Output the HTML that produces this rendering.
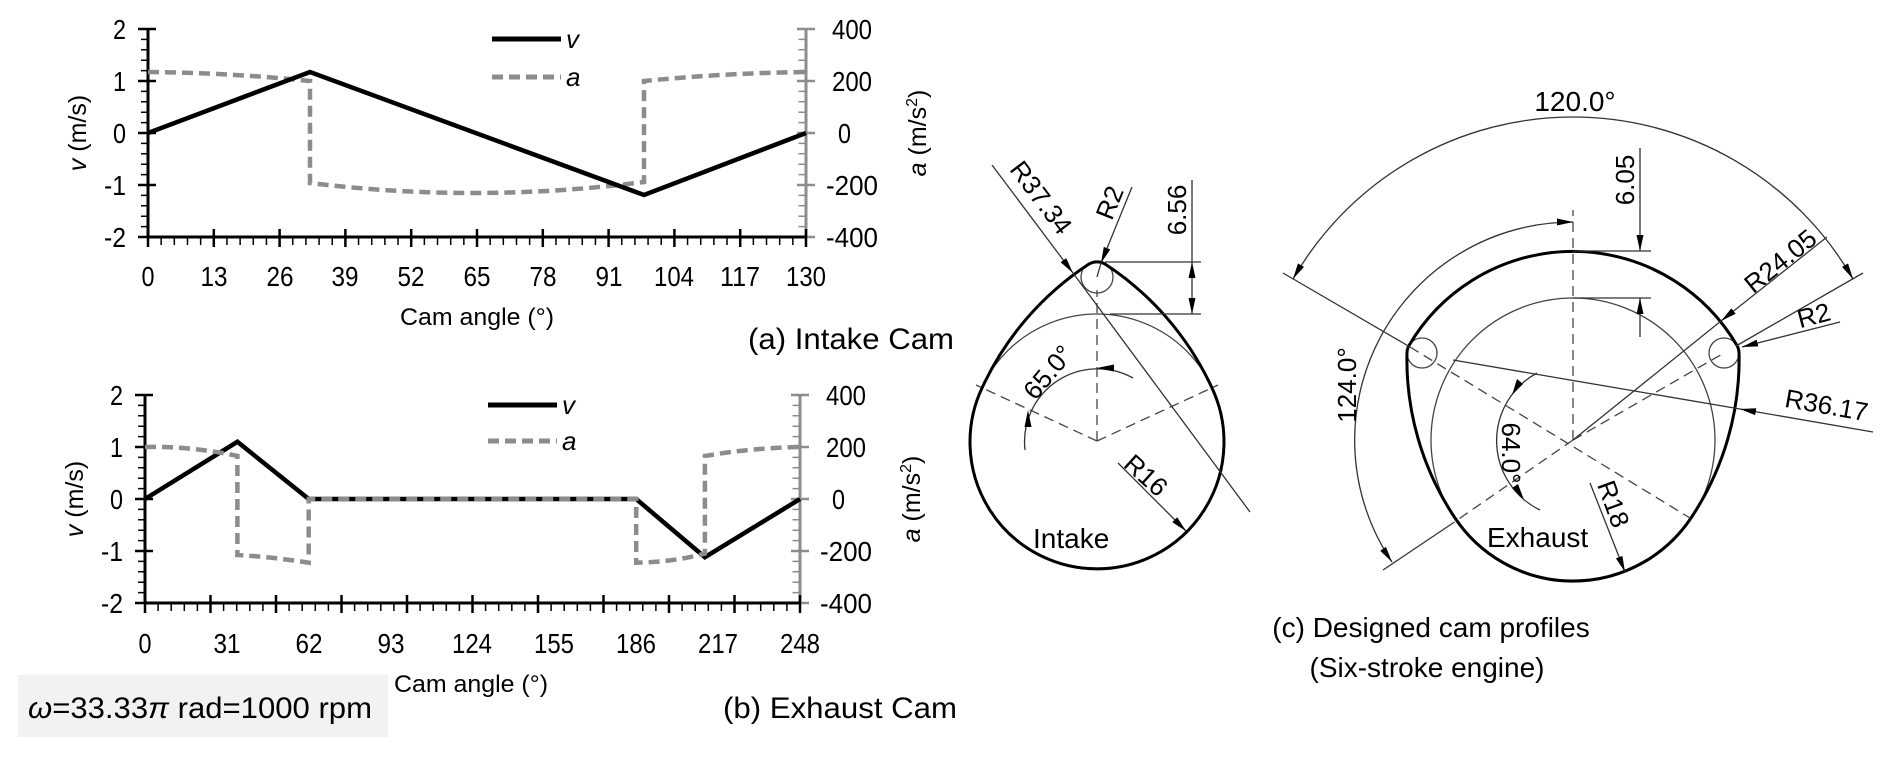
<!DOCTYPE html>
<html><head><meta charset="utf-8"><style>
html,body{margin:0;padding:0;background:#fff;}
svg{display:block;}
.n{font-family:"Liberation Sans Narrow","Liberation Sans",sans-serif;}
.s{font-family:"Liberation Sans",sans-serif;}
</style></head><body>
<svg width="1892" height="757" viewBox="0 0 1892 757" xmlns="http://www.w3.org/2000/svg">
<defs>
<marker id="ar" markerUnits="userSpaceOnUse" markerWidth="16" markerHeight="7" viewBox="0 0 16 7" refX="16" refY="3.5" orient="auto-start-reverse"><path d="M0,0 L16,3.5 L0,7 z" fill="#000"/></marker>
</defs>
<rect x="0" y="0" width="1892" height="757" fill="#fff"/>

<!-- ===== Chart (a) ===== -->
<g>
<line x1="806" y1="29" x2="806" y2="237" stroke="#8c8c8c" stroke-width="3"/>
<line x1="802" y1="29" x2="802" y2="237" stroke="#8c8c8c" stroke-width="7" stroke-dasharray="1.5 8.9" stroke-dashoffset="0.75"/>
<line x1="806" y1="27.75" x2="806" y2="240" stroke="#8c8c8c" stroke-width="18" stroke-dasharray="2.5 49.5"/>
<line x1="148" y1="29" x2="148" y2="237" stroke="#000" stroke-width="3"/>
<line x1="144.5" y1="28.25" x2="144.5" y2="238" stroke="#000" stroke-width="7" stroke-dasharray="1.5 8.9"/>
<line x1="147" y1="27.75" x2="147" y2="240" stroke="#000" stroke-width="18" stroke-dasharray="2.5 49.5"/>
<line x1="148" y1="237" x2="806" y2="237" stroke="#000" stroke-width="3"/>
<line x1="147.25" y1="241" x2="808" y2="241" stroke="#000" stroke-width="8" stroke-dasharray="1.5 11.66"/>
<line x1="146.75" y1="238" x2="810" y2="238" stroke="#000" stroke-width="18" stroke-dasharray="2.5 63.3"/>
<path d="M148,72 Q229,72.7 310,81 L310,183 Q477,203.5 644,182 L644,81 Q725,73 806,72" fill="none" stroke="#8c8c8c" stroke-width="4.5" stroke-dasharray="11 6"/>
<polyline points="148,133 310,72 644,195 806,133" fill="none" stroke="#000" stroke-width="4.5"/>
<line x1="492" y1="39" x2="561" y2="39" stroke="#000" stroke-width="5"/>
<text x="566" y="48" class="n" font-size="26" font-style="italic">v</text>
<line x1="492" y1="77" x2="561" y2="77" stroke="#8c8c8c" stroke-width="5" stroke-dasharray="11 6"/>
<text x="566" y="86" class="n" font-size="26" font-style="italic">a</text>
<g class="n" font-size="28" text-anchor="end" lengthAdjust="spacingAndGlyphs">
<text x="126" y="39" textLength="13" lengthAdjust="spacingAndGlyphs">2</text><text x="126" y="91" textLength="13" lengthAdjust="spacingAndGlyphs">1</text><text x="126" y="143" textLength="13" lengthAdjust="spacingAndGlyphs">0</text><text x="126" y="195" textLength="22" lengthAdjust="spacingAndGlyphs">-1</text><text x="126" y="247" textLength="22" lengthAdjust="spacingAndGlyphs">-2</text>
</g>
<g class="n" font-size="28">
<text x="832" y="39" textLength="40" lengthAdjust="spacingAndGlyphs">400</text><text x="832" y="91" textLength="40" lengthAdjust="spacingAndGlyphs">200</text><text x="838" y="143" textLength="13" lengthAdjust="spacingAndGlyphs">0</text><text x="826" y="195" textLength="52" lengthAdjust="spacingAndGlyphs">-200</text><text x="826" y="247" textLength="52" lengthAdjust="spacingAndGlyphs">-400</text>
</g>
<g class="n" font-size="28" text-anchor="middle">
<text x="148" y="286" textLength="13" lengthAdjust="spacingAndGlyphs">0</text><text x="214" y="286" textLength="27" lengthAdjust="spacingAndGlyphs">13</text><text x="280" y="286" textLength="27" lengthAdjust="spacingAndGlyphs">26</text><text x="345" y="286" textLength="27" lengthAdjust="spacingAndGlyphs">39</text><text x="411" y="286" textLength="27" lengthAdjust="spacingAndGlyphs">52</text><text x="477" y="286" textLength="27" lengthAdjust="spacingAndGlyphs">65</text><text x="543" y="286" textLength="27" lengthAdjust="spacingAndGlyphs">78</text><text x="609" y="286" textLength="27" lengthAdjust="spacingAndGlyphs">91</text><text x="674" y="286" textLength="40" lengthAdjust="spacingAndGlyphs">104</text><text x="740" y="286" textLength="40" lengthAdjust="spacingAndGlyphs">117</text><text x="806" y="286" textLength="40" lengthAdjust="spacingAndGlyphs">130</text>
</g>
<text x="400" y="325" class="n" font-size="24" textLength="154" lengthAdjust="spacingAndGlyphs">Cam angle (°)</text>
<text transform="translate(86,133) rotate(-90)" class="s" font-size="25" text-anchor="middle"><tspan font-style="italic">v</tspan> (m/s)</text>
<text transform="translate(926,133) rotate(-90)" class="s" font-size="25" text-anchor="middle"><tspan font-style="italic">a</tspan> (m/s<tspan font-size="16" dy="-9">2</tspan><tspan dy="9">)</tspan></text>
<text x="748" y="349" class="n" font-size="30" textLength="206" lengthAdjust="spacingAndGlyphs">(a) Intake Cam</text>
</g>

<!-- ===== Chart (b) ===== -->
<g>
<line x1="800" y1="395" x2="800" y2="603" stroke="#8c8c8c" stroke-width="3"/>
<line x1="796" y1="394.25" x2="796" y2="604" stroke="#8c8c8c" stroke-width="7" stroke-dasharray="1.5 8.9"/>
<line x1="800" y1="393.75" x2="800" y2="606" stroke="#8c8c8c" stroke-width="18" stroke-dasharray="2.5 49.5"/>
<line x1="145" y1="395" x2="145" y2="603" stroke="#000" stroke-width="3"/>
<line x1="141.5" y1="394.25" x2="141.5" y2="604" stroke="#000" stroke-width="7" stroke-dasharray="1.5 8.9"/>
<line x1="144" y1="393.75" x2="144" y2="606" stroke="#000" stroke-width="18" stroke-dasharray="2.5 49.5"/>
<line x1="145" y1="603" x2="800" y2="603" stroke="#000" stroke-width="3"/>
<line x1="144.25" y1="607" x2="802" y2="607" stroke="#000" stroke-width="8" stroke-dasharray="1.5 11.6"/>
<line x1="143.75" y1="604" x2="804" y2="604" stroke="#000" stroke-width="18" stroke-dasharray="2.5 63"/>
<polyline points="145,499 237.4,441.8 308.7,499 636.2,499 704.9,557.2 800,499" fill="none" stroke="#000" stroke-width="4.5"/>
<path d="M145,447 Q191,446 237.4,456 L237.4,555 Q273,557 308.7,562.7 L308.7,499 L636.2,499 L636.2,562.7 Q674,562 704.9,553.6 L704.9,456 Q750,448 800,447" fill="none" stroke="#8c8c8c" stroke-width="4.5" stroke-dasharray="11 6"/>
<line x1="488" y1="405" x2="557" y2="405" stroke="#000" stroke-width="5"/>
<text x="562" y="414" class="n" font-size="26" font-style="italic">v</text>
<line x1="488" y1="441" x2="557" y2="441" stroke="#8c8c8c" stroke-width="5" stroke-dasharray="11 6"/>
<text x="562" y="450" class="n" font-size="26" font-style="italic">a</text>
<g class="n" font-size="28" text-anchor="end">
<text x="123" y="405" textLength="13" lengthAdjust="spacingAndGlyphs">2</text><text x="123" y="457" textLength="13" lengthAdjust="spacingAndGlyphs">1</text><text x="123" y="509" textLength="13" lengthAdjust="spacingAndGlyphs">0</text><text x="123" y="561" textLength="22" lengthAdjust="spacingAndGlyphs">-1</text><text x="123" y="613" textLength="22" lengthAdjust="spacingAndGlyphs">-2</text>
</g>
<g class="n" font-size="28">
<text x="826" y="405" textLength="40" lengthAdjust="spacingAndGlyphs">400</text><text x="826" y="457" textLength="40" lengthAdjust="spacingAndGlyphs">200</text><text x="832" y="509" textLength="13" lengthAdjust="spacingAndGlyphs">0</text><text x="820" y="561" textLength="52" lengthAdjust="spacingAndGlyphs">-200</text><text x="820" y="613" textLength="52" lengthAdjust="spacingAndGlyphs">-400</text>
</g>
<g class="n" font-size="28" text-anchor="middle">
<text x="145" y="653" textLength="13" lengthAdjust="spacingAndGlyphs">0</text><text x="227" y="653" textLength="27" lengthAdjust="spacingAndGlyphs">31</text><text x="309" y="653" textLength="27" lengthAdjust="spacingAndGlyphs">62</text><text x="391" y="653" textLength="27" lengthAdjust="spacingAndGlyphs">93</text><text x="472" y="653" textLength="40" lengthAdjust="spacingAndGlyphs">124</text><text x="554" y="653" textLength="40" lengthAdjust="spacingAndGlyphs">155</text><text x="636" y="653" textLength="40" lengthAdjust="spacingAndGlyphs">186</text><text x="718" y="653" textLength="40" lengthAdjust="spacingAndGlyphs">217</text><text x="800" y="653" textLength="40" lengthAdjust="spacingAndGlyphs">248</text>
</g>
<text x="394" y="692" class="n" font-size="24" textLength="154" lengthAdjust="spacingAndGlyphs">Cam angle (°)</text>
<text transform="translate(83,499) rotate(-90)" class="s" font-size="25" text-anchor="middle"><tspan font-style="italic">v</tspan> (m/s)</text>
<text transform="translate(920,499) rotate(-90)" class="s" font-size="25" text-anchor="middle"><tspan font-style="italic">a</tspan> (m/s<tspan font-size="16" dy="-9">2</tspan><tspan dy="9">)</tspan></text>
<rect x="18" y="675" width="370" height="62" fill="#f2f2f2"/>
<text x="28" y="718" class="n" font-size="30" textLength="344" lengthAdjust="spacingAndGlyphs"><tspan font-style="italic">ω</tspan>=33.33<tspan font-style="italic">π</tspan> rad=1000 rpm</text>
<text x="723" y="718" class="n" font-size="30" textLength="234" lengthAdjust="spacingAndGlyphs">(b) Exhaust Cam</text>
</g>

<!-- ===== Intake cam ===== -->
<g fill="none" stroke="#000">
<circle cx="1097" cy="441" r="127" stroke-width="1.3" stroke="#444"/>
<circle cx="1097" cy="277" r="16" stroke-width="1.3" stroke="#444"/>
<path d="M982,388 A296,296 0 0 1 1089,264 A16,16 0 0 1 1105,264 A296,296 0 0 1 1212,388 A127,127 0 1 1 982,388 Z" stroke-width="3"/>
<g stroke-width="1.3" stroke="#444" stroke-dasharray="10 6">
<line x1="1097" y1="441" x2="1097" y2="290"/>
<line x1="1097" y1="441" x2="976" y2="385"/>
<line x1="1097" y1="441" x2="1218" y2="385"/>
</g>
<g stroke-width="1.3" stroke="#333">
<line x1="1105" y1="262" x2="1201" y2="262"/>
<line x1="1110" y1="314" x2="1201" y2="314"/>
<line x1="1192" y1="180" x2="1192" y2="262"/>
<line x1="1192" y1="262" x2="1192" y2="314" marker-start="url(#ar)" marker-end="url(#ar)"/>
<line x1="992" y1="165" x2="1073" y2="273" marker-end="url(#ar)"/>
<line x1="1073" y1="273" x2="1250" y2="512"/>
<line x1="1132" y1="187" x2="1101" y2="263" marker-end="url(#ar)"/>
<line x1="1101" y1="263" x2="1097" y2="277"/>
<line x1="1118" y1="463" x2="1186" y2="531" marker-end="url(#ar)"/>
<path d="M1133,378 A73,73 0 0 0 1025,450"/>
</g>
</g>
<polygon points="1097,368 1114,364.5 1114,371.5" fill="#000"/>
<polygon points="1028,410 1024.5,427 1031.5,427" fill="#000"/>
<g class="s" font-size="26" fill="#000" text-anchor="middle">
<text transform="translate(1186,210) rotate(-90)">6.56</text>
<text transform="translate(1034,203) rotate(53)">R37.34</text>
<text transform="translate(1118,206) rotate(-68)">R2</text>
<text transform="translate(1055,378) rotate(-50)">65.0°</text>
<text transform="translate(1140,482) rotate(42)">R16</text>
</g>
<text x="1033" y="548" class="s" font-size="28">Intake</text>

<!-- ===== Exhaust cam ===== -->
<g fill="none" stroke="#000">
<circle cx="1573" cy="440" r="142" stroke-width="1.3" stroke="#444"/>
<circle cx="1422" cy="353" r="15" stroke-width="1.3" stroke="#444"/>
<circle cx="1724" cy="353" r="15" stroke-width="1.3" stroke="#444"/>
<path d="M1409,345.5 A190,190 0 0 1 1737,345.5 A15,15 0 0 1 1739,352 A285,285 0 0 1 1691,518 A142,142 0 0 1 1455,518 A285,285 0 0 1 1407,352 A15,15 0 0 1 1409,345.5 Z" stroke-width="3"/>
<g stroke-width="1.3" stroke="#444" stroke-dasharray="10 6">
<line x1="1573" y1="440" x2="1573" y2="210"/>
<line x1="1410" y1="347" x2="1690" y2="518"/>
<line x1="1573" y1="440" x2="1724" y2="353"/>
<line x1="1573" y1="440" x2="1453" y2="523"/>
</g>
<g stroke-width="1.3" stroke="#333">
<line x1="1283" y1="273" x2="1410" y2="347"/>
<line x1="1863" y1="273" x2="1736" y2="346"/>
<line x1="1453" y1="523" x2="1383" y2="570"/>
<line x1="1827" y1="237" x2="1721" y2="321" marker-end="url(#ar)"/>
<line x1="1721" y1="321" x2="1573" y2="440"/>
<path d="M1293,279 A323,323 0 0 1 1853,279" marker-start="url(#ar)" marker-end="url(#ar)"/>
<path d="M1392,562 A218,218 0 0 1 1573,222" marker-start="url(#ar)" marker-end="url(#ar)"/>
<path d="M1537,373 A77,77 0 0 0 1540,510"/>
<line x1="1453" y1="360" x2="1740" y2="409"/>
<line x1="1873" y1="432" x2="1740" y2="409" marker-end="url(#ar)"/>
<line x1="1840" y1="322" x2="1742" y2="347" marker-end="url(#ar)"/>
<line x1="1590" y1="483" x2="1625" y2="572" marker-end="url(#ar)"/>
<line x1="1573" y1="251" x2="1651" y2="251"/>
<line x1="1573" y1="298" x2="1651" y2="298"/>
<line x1="1640" y1="148" x2="1640" y2="251" marker-end="url(#ar)"/>
<line x1="1640" y1="337" x2="1640" y2="298" marker-end="url(#ar)"/>
</g>
</g>
<polygon points="1512,395 1517,379 1523,384" fill="#000"/>
<polygon points="1524,500 1512,488 1518,484" fill="#000"/>
<g class="s" font-size="26" fill="#000" text-anchor="middle">
<text x="1575" y="111" font-size="28">120.0°</text>
<text transform="translate(1356,385) rotate(-90)">124.0°</text>
<text transform="translate(1634,180) rotate(-90)">6.05</text>
<text transform="translate(1786,268) rotate(-39)">R24.05</text>
<text transform="translate(1816,324) rotate(-15)">R2</text>
<text transform="translate(1825,414) rotate(10)">R36.17</text>
<text transform="translate(1502,453) rotate(90)">64.0°</text>
<text transform="translate(1605,507) rotate(70)">R18</text>
</g>
<text x="1487" y="547" class="s" font-size="28">Exhaust</text>
<text x="1431" y="637" class="s" font-size="28" text-anchor="middle">(c) Designed cam profiles</text>
<text x="1427" y="677" class="s" font-size="28" text-anchor="middle">(Six-stroke engine)</text>
</svg>
</body></html>
